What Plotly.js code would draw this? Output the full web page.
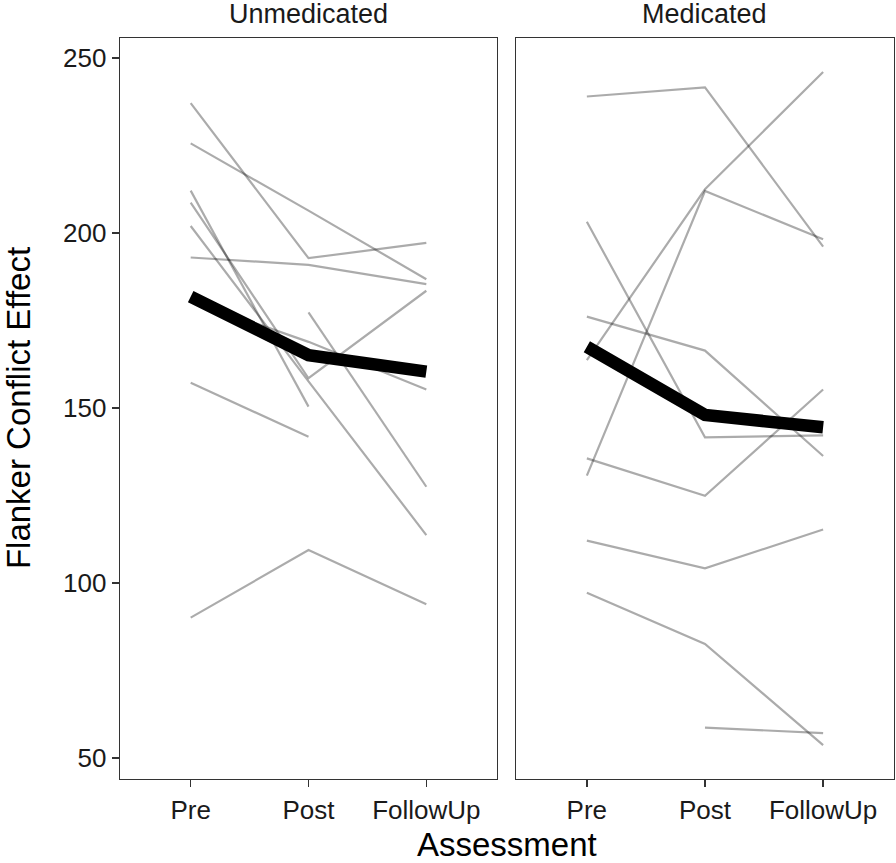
<!DOCTYPE html>
<html>
<head>
<meta charset="utf-8">
<script src="https://cdn.plot.ly/plotly-3.0.1.min.js"></script>
<style>
  html, body { margin: 0; padding: 0; background: #fff; }
  #chart { width: 896px; height: 863px; }
</style>
</head>
<body>
<div id="chart"></div>
<script>
// ---- Data ----
const assessments = ["Pre", "Post", "FollowUp"];
const panels = ["Unmedicated", "Medicated"];

// Unmedicated: individual subjects (null = missing assessment)
const unmedS01 = [237.1, 192.8, 197.2];
const unmedS02 = [225.6, 206.4, 186.8];
const unmedS03 = [193.0, 190.9, 185.4];
const unmedS04 = [212.1, 150.4, null];
const unmedS05 = [208.7, 158.5, 183.5];
const unmedS06 = [202.0, 157.6, 113.7];
const unmedS07 = [180.7, 168.9, 155.3];
const unmedS08 = [null, 177.3, 127.5];
const unmedS09 = [157.2, 141.8, null];
const unmedS10 = [90.1, 109.4, 93.9];
const unmedMean = [181.8, 165.1, 160.4];

// Medicated: individual subjects
const medS01 = [239.0, 241.6, 196.1];
const medS02 = [163.7, 212.5, 246.0];
const medS03 = [130.7, 212.0, 198.2];
const medS04 = [203.2, 141.6, 142.2];
const medS05 = [176.1, 166.4, 136.3];
const medS06 = [135.6, 124.9, 155.3];
const medS07 = [112.1, 104.2, 115.3];
const medS08 = [97.2, 82.6, 53.7];
const medS09 = [null, 58.7, 57.1];
const medMean = [167.5, 148.0, 144.5];

const unmedSubjects = [unmedS01, unmedS02, unmedS03, unmedS04, unmedS05,
                       unmedS06, unmedS07, unmedS08, unmedS09, unmedS10];
const medSubjects = [medS01, medS02, medS03, medS04, medS05,
                     medS06, medS07, medS08, medS09];

const yTicks = [50, 100, 150, 200, 250];

// ---- Build traces ----
const FONT = "Liberation Sans, Arial, Helvetica, sans-serif";
const subjLine = { color: "rgba(0,0,0,0.33)", width: 2.2 };
const meanLine = { color: "#000000", width: 12.5 };

const traces = [];
function addPanel(subjects, mean, xa, ya) {
  subjects.forEach(s => traces.push({
    type: "scatter", mode: "lines", x: assessments, y: s,
    xaxis: xa, yaxis: ya, line: subjLine, connectgaps: false,
    hoverinfo: "skip", showlegend: false
  }));
  traces.push({
    type: "scatter", mode: "lines", x: assessments, y: mean,
    xaxis: xa, yaxis: ya, line: meanLine, showlegend: false
  });
}
addPanel(unmedSubjects, unmedMean, "x", "y");
addPanel(medSubjects, medMean, "x2", "y2");

const axisCommon = {
  showgrid: false, zeroline: false,
  showline: true, mirror: true, linecolor: "#333333", linewidth: 1.3,
  ticks: "outside", ticklen: 7, tickwidth: 1.3, tickcolor: "#333333",
  tickfont: { family: FONT, size: 26, color: "#1a1a1a" }
};
const yRange = [44.0, 255.714];

const layout = {
  width: 896, height: 863,
  margin: { l: 120, r: 2, t: 38, b: 84 },
  paper_bgcolor: "#ffffff", plot_bgcolor: "#ffffff",
  showlegend: false,
  xaxis: Object.assign({}, axisCommon, {
    domain: [0, 0.4871], type: "category",
    categoryorder: "array", categoryarray: assessments,
    range: [-0.6, 2.6], anchor: "y"
  }),
  xaxis2: Object.assign({}, axisCommon, {
    domain: [0.5116, 1], type: "category",
    categoryorder: "array", categoryarray: assessments,
    range: [-0.6, 2.6], anchor: "y2"
  }),
  yaxis: Object.assign({}, axisCommon, {
    range: yRange, tickvals: yTicks, anchor: "x"
  }),
  yaxis2: Object.assign({}, axisCommon, {
    range: yRange, anchor: "x2", ticks: "", showticklabels: false
  }),
  annotations: [
    { text: panels[0], xref: "x domain", yref: "paper", x: 0.5, y: 1.033,
      xanchor: "center", yanchor: "middle", showarrow: false,
      font: { family: FONT, size: 27, color: "#1a1a1a" } },
    { text: panels[1], xref: "x2 domain", yref: "paper", x: 0.5, y: 1.033,
      xanchor: "center", yanchor: "middle", showarrow: false,
      font: { family: FONT, size: 27, color: "#1a1a1a" } },
    { text: "Assessment", xref: "paper", yref: "paper", x: 0.5, y: -0.089,
      xanchor: "center", yanchor: "middle", showarrow: false,
      font: { family: FONT, size: 33, color: "#000000" } },
    { text: "Flanker Conflict Effect", xref: "paper", yref: "paper",
      x: -0.131, y: 0.5, textangle: -90,
      xanchor: "center", yanchor: "middle", showarrow: false,
      font: { family: FONT, size: 33, color: "#000000" } }
  ]
};

Plotly.newPlot("chart", traces, layout, { displayModeBar: false, staticPlot: true });
</script>
</body>
</html>
